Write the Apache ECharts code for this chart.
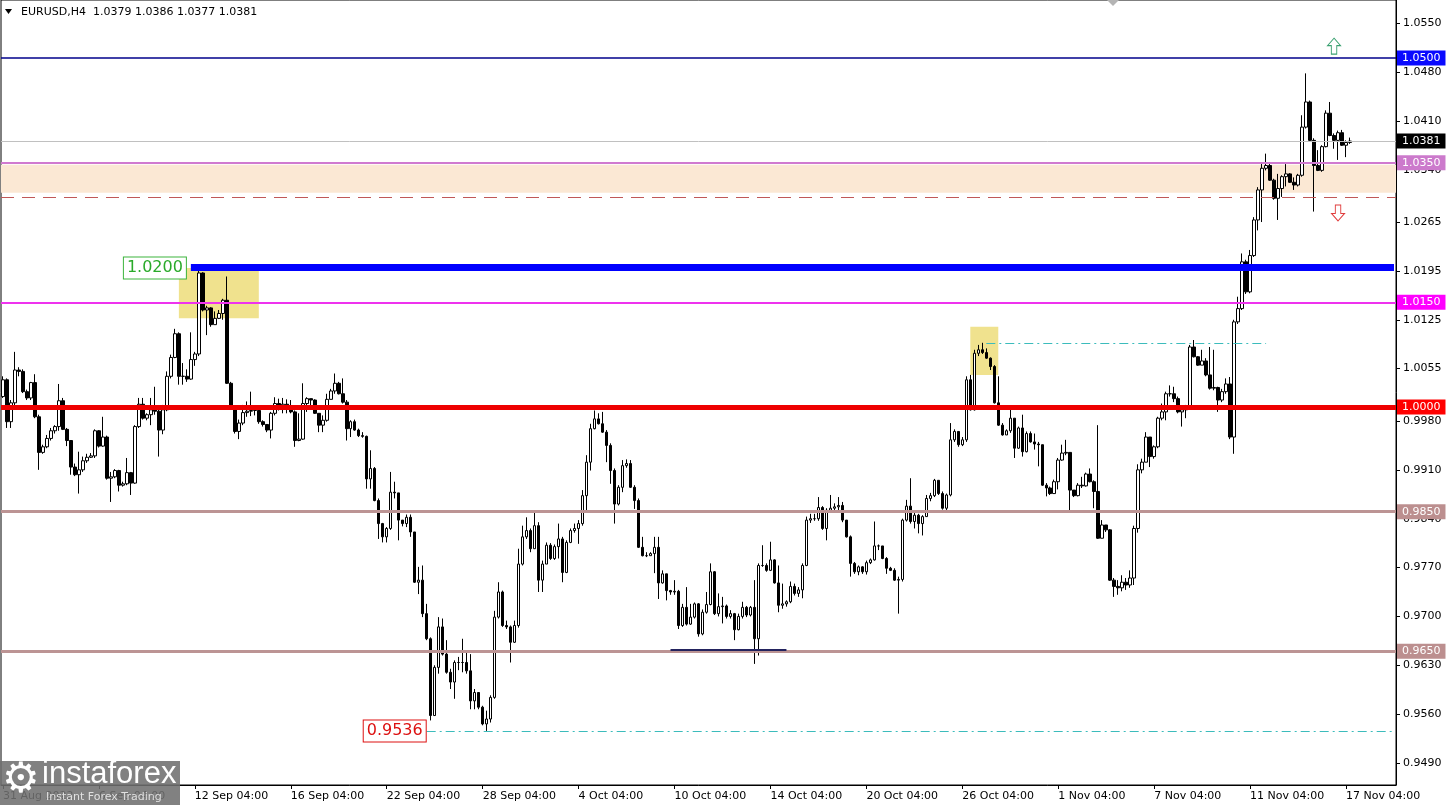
<!DOCTYPE html>
<html><head><meta charset="utf-8">
<script src="https://cdn.jsdelivr.net/npm/echarts@6/dist/echarts.min.js"></script>
<style>html,body{margin:0;padding:0;background:#fff}#c{width:1447px;height:805px}</style>
</head><body><div id="c"></div>
<script>
// ---- DATA (EURUSD H4) ----
const firstOpen = 1.0015;
const closes = [
1.0039,0.9979,1.0006,1.0053,1.0051,1.0022,1.0013,1.0035,0.9986,0.9935,
0.9943,0.9955,0.9966,0.9972,1.0009,0.9968,0.9952,0.9914,0.9903,0.9910,
0.9923,0.9928,0.9930,0.9966,0.9944,0.9957,0.9898,0.9900,0.9909,0.9888,
0.9890,0.9906,0.9891,0.9972,1.0004,0.9984,0.9989,0.9996,0.9994,0.9967,
0.9996,1.0044,1.0071,1.0105,1.0044,1.0044,1.0040,1.0068,1.0076,1.0192,
1.0139,1.0142,1.0118,1.0127,1.0134,1.0153,1.0034,1.0001,0.9965,0.9977,
0.9992,0.9994,0.9995,0.9995,0.9979,0.9975,0.9967,0.9991,1.0005,1.0000,
1.0004,1.0000,0.9993,0.9952,0.9954,1.0005,1.0012,1.0010,0.9991,0.9974,
0.9981,1.0011,1.0023,1.0034,1.0019,1.0007,0.9969,0.9979,0.9967,0.9959,
0.9958,0.9897,0.9912,0.9866,0.9833,0.9814,0.9826,0.9878,0.9877,0.9838,
0.9833,0.9842,0.9821,0.9749,0.9752,0.9704,0.9668,0.9558,0.9627,0.9685,
0.9646,0.9620,0.9606,0.9634,0.9634,0.9634,0.9622,0.9579,0.9591,0.9570,
0.9546,0.9553,0.9584,0.9699,0.9735,0.9687,0.9685,0.9663,0.9687,0.9775,
0.9814,0.9823,0.9797,0.9830,0.9752,0.9775,0.9802,0.9783,0.9800,0.9811,
0.9763,0.9806,0.9823,0.9826,0.9833,0.9873,0.9921,0.9969,0.9983,0.9976,
0.9964,0.9945,0.9909,0.9861,0.9885,0.9916,0.9919,0.9885,0.9866,0.9799,
0.9787,0.9787,0.9790,0.9799,0.9748,0.9761,0.9737,0.9735,0.9736,0.9687,
0.9713,0.9689,0.9699,0.9718,0.9675,0.9706,0.9717,0.9764,0.9704,0.9714,
0.9715,0.9700,0.9704,0.9681,0.9700,0.9713,0.9702,0.9713,0.9668,0.9773,
0.9773,0.9766,0.9781,0.9748,0.9716,0.9718,0.9721,0.9743,0.9733,0.9738,
0.9773,0.9838,0.9840,0.9840,0.9856,0.9826,0.9852,0.9855,0.9857,0.9859,
0.9838,0.9814,0.9776,0.9764,0.9771,0.9764,0.9777,0.9781,0.9801,0.9801,
0.9783,0.9769,0.9766,0.9752,0.9753,0.9838,0.9858,0.9836,0.9845,0.9833,
0.9843,0.9869,0.9873,0.9895,0.9876,0.9855,0.9874,0.9953,0.9965,0.9946,
0.9953,1.0039,0.9996,1.0077,1.0082,1.0078,1.0070,1.0058,1.0006,0.9974,
0.9960,0.9966,0.9984,0.9941,0.9970,0.9936,0.9962,0.9950,0.9947,0.9946,
0.9888,0.9884,0.9876,0.9893,0.9924,0.9934,0.9935,0.9881,0.9873,0.9888,
0.9887,0.9904,0.9893,0.9879,0.9812,0.9831,0.9824,0.9752,0.9743,0.9741,
0.9749,0.9745,0.9755,0.9826,0.9910,0.9921,0.9957,0.9929,0.9943,0.9984,
0.9993,1.0019,1.0019,1.0012,0.9993,0.9996,1.0000,1.0086,1.0072,1.0060,
1.0066,1.0046,1.0027,1.0028,1.0010,1.0022,1.0033,0.9957,1.0122,1.0141,
1.0208,1.0165,1.0217,1.0268,1.0311,1.0342,1.0346,1.0325,1.0299,1.0313,
1.0330,1.0334,1.0322,1.0318,1.0332,1.0401,1.0437,1.0382,1.0346,1.0339,
1.0373,1.0421,1.0389,1.0382,1.0393,1.0375,1.0379,1.0381];
const highs = [
1.0044,1.0041,1.0010,1.0079,1.0057,1.0054,1.0025,1.0036,1.0047,0.9989,
0.9946,0.9960,0.9970,0.9974,1.0033,1.0013,0.9970,0.9931,0.9919,0.9936,
0.9929,0.9933,0.9934,0.9968,0.9967,0.9986,0.9959,0.9907,0.9911,0.9910,
0.9893,0.9927,0.9907,0.9974,1.0013,1.0013,0.9991,1.0013,1.0029,0.9997,
1.0003,1.0051,1.0075,1.0112,1.0107,1.0063,1.0054,1.0107,1.0079,1.0197,
1.0193,1.0145,1.0143,1.0137,1.0139,1.0155,1.0187,1.0036,0.9996,0.9982,
1.0003,1.0008,1.0022,1.0000,0.9998,0.9981,0.9974,0.9993,1.0014,1.0012,
1.0013,1.0011,1.0010,0.9995,0.9991,1.0034,1.0014,1.0012,1.0011,0.9991,
0.9988,1.0019,1.0026,1.0048,1.0036,1.0041,1.0010,0.9981,0.9982,0.9969,
0.9964,0.9959,0.9938,0.9914,0.9869,0.9834,0.9828,0.9907,0.9893,0.9877,
0.9838,0.9846,0.9846,0.9821,0.9771,0.9773,0.9718,0.9670,0.9630,0.9699,
0.9697,0.9666,0.9625,0.9637,0.9642,0.9668,0.9651,0.9646,0.9596,0.9591,
0.9572,0.9565,0.9587,0.9708,0.9749,0.9737,0.9694,0.9687,0.9694,0.9797,
0.9830,0.9842,0.9826,0.9852,0.9835,0.9780,0.9806,0.9805,0.9803,0.9833,
0.9814,0.9809,0.9826,0.9833,0.9838,0.9881,0.9931,0.9976,0.9995,0.9991,
0.9993,0.9967,0.9948,0.9912,0.9888,0.9924,0.9925,0.9924,0.9888,0.9869,
0.9814,0.9792,0.9792,0.9814,0.9814,0.9766,0.9759,0.9738,0.9752,0.9738,
0.9718,0.9742,0.9718,0.9720,0.9719,0.9710,0.9735,0.9776,0.9765,0.9733,
0.9728,0.9717,0.9709,0.9705,0.9704,0.9721,0.9715,0.9715,0.9752,0.9776,
0.9802,0.9776,0.9807,0.9782,0.9773,0.9747,0.9723,0.9750,0.9747,0.9742,
0.9776,0.9843,0.9847,0.9847,0.9871,0.9858,0.9855,0.9874,0.9862,0.9871,
0.9864,0.9838,0.9816,0.9778,0.9773,0.9772,0.9780,0.9783,0.9836,0.9803,
0.9801,0.9785,0.9771,0.9769,0.9757,0.9840,0.9867,0.9898,0.9852,0.9847,
0.9845,0.9874,0.9877,0.9897,0.9893,0.9879,0.9876,0.9977,0.9968,0.9965,
0.9957,1.0044,1.0046,1.0082,1.0089,1.0092,1.0084,1.0071,1.0060,1.0044,
0.9977,0.9968,0.9996,0.9984,0.9972,0.9989,0.9965,0.9965,0.9962,0.9950,
0.9946,0.9891,0.9886,0.9896,0.9927,0.9946,0.9953,0.9934,0.9881,0.9891,
0.9900,0.9906,0.9912,0.9895,0.9974,0.9838,0.9831,0.9825,0.9755,0.9752,
0.9759,0.9755,0.9766,0.9830,0.9918,0.9926,0.9964,0.9933,0.9945,0.9986,
1.0005,1.0022,1.0031,1.0029,1.0015,1.0000,1.0003,1.0089,1.0096,1.0073,
1.0082,1.0070,1.0086,1.0082,1.0029,1.0026,1.0041,1.0043,1.0125,1.0158,
1.0220,1.0211,1.0225,1.0272,1.0315,1.0349,1.0363,1.0349,1.0327,1.0334,
1.0332,1.0348,1.0335,1.0329,1.0334,1.0418,1.0478,1.0439,1.0385,1.0368,
1.0375,1.0425,1.0437,1.0392,1.0396,1.0397,1.0382,1.0386];
const lows = [
1.0013,0.9970,0.9970,1.0001,1.0044,1.0020,1.0010,1.0010,0.9984,0.9910,
0.9933,0.9941,0.9952,0.9962,0.9966,0.9967,0.9944,0.9903,0.9901,0.9876,
0.9907,0.9920,0.9927,0.9927,0.9942,0.9943,0.9896,0.9864,0.9898,0.9879,
0.9886,0.9888,0.9874,0.9890,0.9970,0.9982,0.9981,0.9974,0.9989,0.9929,
0.9961,0.9994,1.0041,1.0070,1.0032,1.0032,1.0036,1.0039,1.0059,1.0073,
1.0137,1.0103,1.0115,1.0118,1.0126,1.0125,1.0033,0.9998,0.9962,0.9954,
0.9974,0.9986,0.9987,0.9988,0.9976,0.9972,0.9964,0.9955,0.9988,0.9995,
0.9991,0.9991,0.9991,0.9943,0.9951,0.9953,0.9993,1.0002,0.9990,0.9964,
0.9964,0.9979,1.0011,1.0019,1.0018,1.0005,0.9952,0.9957,0.9966,0.9957,
0.9956,0.9883,0.9883,0.9865,0.9811,0.9806,0.9806,0.9824,0.9869,0.9809,
0.9829,0.9828,0.9814,0.9748,0.9732,0.9699,0.9666,0.9551,0.9558,0.9618,
0.9644,0.9618,0.9596,0.9582,0.9623,0.9620,0.9618,0.9567,0.9567,0.9567,
0.9544,0.9536,0.9548,0.9582,0.9697,0.9685,0.9682,0.9634,0.9662,0.9684,
0.9773,0.9811,0.9792,0.9797,0.9735,0.9735,0.9775,0.9781,0.9781,0.9783,
0.9749,0.9762,0.9805,0.9820,0.9804,0.9830,0.9850,0.9909,0.9968,0.9975,
0.9963,0.9921,0.9890,0.9833,0.9859,0.9878,0.9913,0.9884,0.9854,0.9798,
0.9786,0.9785,0.9787,0.9762,0.9725,0.9747,0.9723,0.9731,0.9731,0.9682,
0.9685,0.9687,0.9688,0.9697,0.9671,0.9673,0.9704,0.9716,0.9702,0.9700,
0.9690,0.9697,0.9697,0.9666,0.9680,0.9697,0.9699,0.9700,0.9632,0.9644,
0.9771,0.9764,0.9765,0.9747,0.9706,0.9711,0.9714,0.9719,0.9730,0.9728,
0.9726,0.9772,0.9834,0.9837,0.9837,0.9824,0.9809,0.9850,0.9852,0.9852,
0.9835,0.9813,0.9757,0.9761,0.9759,0.9761,0.9760,0.9775,0.9780,0.9795,
0.9782,0.9761,0.9765,0.9751,0.9704,0.9750,0.9836,0.9833,0.9826,0.9819,
0.9816,0.9843,0.9865,0.9871,0.9874,0.9853,0.9852,0.9872,0.9950,0.9943,
0.9944,0.9950,0.9995,0.9995,1.0073,1.0076,1.0069,1.0053,1.0005,0.9973,
0.9959,0.9960,0.9963,0.9927,0.9940,0.9929,0.9935,0.9949,0.9939,0.9915,
0.9887,0.9872,0.9874,0.9876,0.9882,0.9923,0.9931,0.9850,0.9871,0.9872,
0.9884,0.9886,0.9892,0.9855,0.9811,0.9812,0.9821,0.9751,0.9728,0.9731,
0.9736,0.9738,0.9741,0.9745,0.9820,0.9905,0.9924,0.9914,0.9926,0.9941,
0.9981,0.9981,1.0015,1.0007,0.9991,0.9972,0.9984,0.9998,1.0071,1.0059,
1.0060,1.0044,1.0025,1.0024,0.9993,1.0007,1.0019,0.9954,0.9933,1.0119,
1.0139,1.0162,1.0163,1.0215,1.0253,1.0265,1.0339,1.0324,1.0297,1.0268,
1.0301,1.0316,1.0321,1.0311,1.0316,1.0330,1.0399,1.0381,1.0280,1.0338,
1.0337,1.0372,1.0388,1.0370,1.0354,1.0374,1.0358,1.0377];

const timeLabels = ['31 Aug 2022','6 Sep 04:00','12 Sep 04:00','16 Sep 04:00','22 Sep 04:00','28 Sep 04:00','4 Oct 04:00','10 Oct 04:00','14 Oct 04:00','20 Oct 04:00','26 Oct 04:00','1 Nov 04:00','7 Nov 04:00','11 Nov 04:00','17 Nov 04:00'];
const timeLabelIdx = [0,24,48,72,96,120,144,168,192,216,240,264,288,312,336];
const priceTicks = [1.0550,1.0480,1.0410,1.0340,1.0265,1.0195,1.0125,1.0055,0.9980,0.9910,0.9840,0.9770,0.9700,0.9630,0.9560,0.9490];

// levels drawn on the chart
const levelResist = [1.0500, 1.0350, 1.0150];
const levelMain = 1.0000;
const levelSupport = [0.9850, 0.9650];
const zoneTop = 1.0347, zoneBottom = 1.0307, zoneDash = 1.0300;
const level1020 = 1.0200, level1020From = 47;
const level0953 = 0.9536, level0953From = 106;
const level1009 = 1.0092, level1009Range = [246, 316];
const level0965Short = 0.9652, level0965Range = [167, 196];
const box1 = [[44, 1.0199], [64, 1.0127]];
const box2 = [[242, 1.0115], [249, 1.0046]];
const arrowUp = [333, 1.0517], arrowDown = [334, 1.0278];

// ---- BUILD ----
const slotCount = 349;
const cats = Array.from({length: slotCount}, (_, i) => String(i));
const ohlc = closes.map((c, i) => {
  const o = i === 0 ? firstOpen : closes[i - 1];
  return [o, c, Math.min(lows[i], o, c), Math.max(highs[i], o, c)];
});
const last = ohlc[ohlc.length - 1];
const lastIdx = slotCount - 1;
const F = 'DejaVu Sans';
const labelSet = new Set(timeLabelIdx);

function tag(text, bg) {
  return {show: true, position: 'end', formatter: text, distance: 1,
    color: '#fff', backgroundColor: bg, padding: [2, 5, 1, 5],
    fontFamily: F, fontSize: 11, lineHeight: 12};
}
const noLabel = {show: false};
const upPath = 'path://M6,0 L12,7 L8.5,7 L8.5,15 L3.5,15 L3.5,7 L0,7 Z';
const downPath = 'path://M6,15 L12,8 L8.5,8 L8.5,0 L3.5,0 L3.5,8 L0,8 Z';
const dashDot = {color: '#3cbcbc', width: 1, type: [9, 4, 2, 4]};

const chart = echarts.init(document.getElementById('c'), null, {renderer: 'canvas'});
chart.setOption({
  animation: false,
  backgroundColor: '#fff',
  grid: {left: 0, right: 51, top: 0, bottom: 20, show: true, borderColor: '#000', borderWidth: 1, backgroundColor: '#fff'},
  xAxis: {
    type: 'category', data: cats, boundaryGap: true,
    axisLine: {show: true, lineStyle: {color: '#000', width: 1}},
    axisTick: {show: true, alignWithLabel: true, length: 4, interval: (i) => labelSet.has(i), lineStyle: {color: '#000'}},
    axisLabel: {show: true, interval: (i) => labelSet.has(i), align: 'left', margin: 6,
      formatter: (v) => { const k = timeLabelIdx.indexOf(parseInt(v, 10)); return k >= 0 ? timeLabels[k] : ''; },
      color: '#000', fontFamily: F, fontSize: 11},
    splitLine: {show: false}
  },
  yAxis: {
    type: 'value', position: 'right', min: 0.94585, max: 1.05831,
    axisLine: {show: true, lineStyle: {color: '#000'}},
    axisTick: {show: true, length: 4, customValues: priceTicks, lineStyle: {color: '#000'}},
    axisLabel: {show: true, customValues: priceTicks, formatter: (v) => v.toFixed(4), margin: 7, color: '#000', fontFamily: F, fontSize: 11},
    splitLine: {show: false}
  },
  series: [
    {
      type: 'line', data: [], z: 1, silent: true,
      markArea: {silent: true, precision: 5, data: [
        [{yAxis: zoneTop, itemStyle: {color: '#fbe8d4'}}, {yAxis: zoneBottom}],
        [{coord: box1[0], itemStyle: {color: '#f0e28e'}}, {coord: box1[1]}],
        [{coord: box2[0], itemStyle: {color: '#f0e28e'}}, {coord: box2[1]}]
      ]}
    },
    {
      type: 'candlestick', data: ohlc, z: 2, barWidth: 3,
      itemStyle: {color: '#fff', color0: '#000', borderColor: '#000', borderColor0: '#000', borderWidth: 1}
    },
    {
      type: 'line', data: [], z: 5, silent: true,
      markLine: {silent: true, precision: 5, symbol: ['none', 'none'], data: [
        {yAxis: zoneDash, lineStyle: {color: '#c05858', width: 1, type: [13, 8]}, label: noLabel},
        {yAxis: levelResist[0], lineStyle: {color: '#00008b', width: 1.5, type: 'solid'}, label: tag('1.0500', '#0a0aff')},
        {yAxis: last[1], lineStyle: {color: '#c0c0c0', width: 1, type: 'solid'}, label: tag(last[1].toFixed(4), '#000')},
        {yAxis: levelResist[1], lineStyle: {color: '#d07ad0', width: 2, type: 'solid'}, label: tag('1.0350', '#cc7acc')},
        [{coord: [level1020From, level1020], lineStyle: {color: '#0000ff', width: 7, type: 'solid'}, label: noLabel}, {coord: [lastIdx, level1020], label: noLabel}],
        {yAxis: levelResist[2], lineStyle: {color: '#ee33ee', width: 2, type: 'solid'}, label: tag('1.0150', '#ff00ff')},
        [{coord: [level1009Range[0], level1009], lineStyle: dashDot, label: noLabel}, {coord: [level1009Range[1], level1009], label: noLabel}],
        {yAxis: levelMain, lineStyle: {color: '#ee0000', width: 5, type: 'solid'}, label: tag('1.0000', '#ff0000')},
        {yAxis: levelSupport[0], lineStyle: {color: '#bc9494', width: 3, type: 'solid'}, label: tag('0.9850', '#bc8f8f')},
        {yAxis: levelSupport[1], lineStyle: {color: '#bc9494', width: 3, type: 'solid'}, label: tag('0.9650', '#bc8f8f')},
        [{coord: [level0965Range[0], level0965Short], lineStyle: {color: '#23235e', width: 2, type: 'solid'}, label: noLabel}, {coord: [level0965Range[1], level0965Short], label: noLabel}],
        [{coord: [level0953From, level0953], lineStyle: dashDot, label: noLabel}, {coord: [lastIdx, level0953], label: noLabel}]
      ]},
      markPoint: {silent: true, precision: 5, data: [
        {coord: [38, 1.0199], symbol: 'rect', symbolSize: 1, itemStyle: {color: 'rgba(0,0,0,0)'},
          label: {show: true, position: 'inside', formatter: '1.0200', color: '#2aaa2a', fontFamily: F, fontSize: 16,
            backgroundColor: '#fff', borderColor: '#3cb43c', borderWidth: 1, padding: [3, 3, 2, 3]}},
        {coord: [98, 0.9536], symbol: 'rect', symbolSize: 1, itemStyle: {color: 'rgba(0,0,0,0)'},
          label: {show: true, position: 'inside', formatter: '0.9536', color: '#dd1111', fontFamily: F, fontSize: 16,
            backgroundColor: '#fff', borderColor: '#dd1111', borderWidth: 1, padding: [3, 3, 2, 3]}},
        {coord: arrowUp, symbol: upPath, symbolSize: [13, 16], symbolKeepAspect: false,
          itemStyle: {color: '#fff', borderColor: '#3aa070', borderWidth: 1}, label: noLabel},
        {coord: arrowDown, symbol: downPath, symbolSize: [13, 16], symbolKeepAspect: false,
          itemStyle: {color: '#fff', borderColor: '#e03c3c', borderWidth: 1}, label: noLabel}
      ]}
    }
  ],
  graphic: [
    {type: 'polygon', shape: {points: [[5, 9], [12, 9], [8.5, 14]]}, style: {fill: '#000'}, z: 100},
    {type: 'text', style: {x: 21, y: 12, text: 'EURUSD,H4  ' + [last[0], last[3], last[2], last[1]].map(v => v.toFixed(4)).join(' '),
      font: '11px "DejaVu Sans"', fill: '#000', verticalAlign: 'middle'}, z: 100},
    {type: 'polygon', shape: {points: [[1107, 0], [1119, 0], [1113, 6]]}, style: {fill: '#b4b4b4'}, z: 100},
    {type: 'rect', shape: {x: 0, y: 761, width: 180, height: 44}, style: {fill: 'rgba(112,112,112,0.88)'}, z: 100},
    {type: 'text', style: {x: 2, y: 781, text: '\u2699', font: '42px "DejaVu Sans"', fill: '#fff', verticalAlign: 'middle'}, z: 101},
    {type: 'text', style: {x: 42, y: 774, text: 'instaforex', font: '31px "Liberation Sans"', fill: '#fff', verticalAlign: 'middle'}, z: 101},
    {type: 'text', style: {x: 46, y: 797, text: 'Instant Forex Trading', font: '11px "DejaVu Sans"', fill: 'rgba(235,235,235,0.9)', verticalAlign: 'middle'}, z: 101}
  ]
});
</script></body></html>
